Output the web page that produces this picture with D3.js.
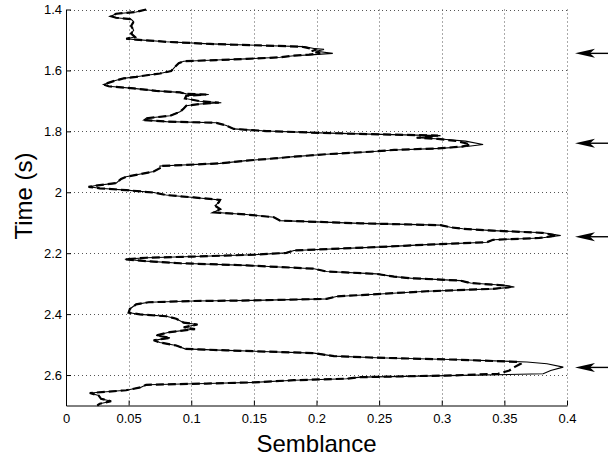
<!DOCTYPE html>
<html>
<head>
<meta charset="utf-8">
<script src="https://cdn.jsdelivr.net/npm/d3@7"></script>
<style>
  html, body { margin: 0; padding: 0; background: #fff; }
  svg { display: block; font-family: "Liberation Sans", Arial, Helvetica, sans-serif; }
</style>
</head>
<body>
<svg id="chart" width="608" height="461"></svg>
<script>
// Time samples (s), shared by both semblance traces
const time = [
  1.400, 1.408, 1.414, 1.422, 1.427, 1.432, 1.440, 1.454, 1.468, 1.479,
  1.490, 1.496, 1.499, 1.506, 1.513, 1.518, 1.522, 1.528, 1.531, 1.537,
  1.544, 1.548, 1.552, 1.557, 1.562, 1.566, 1.570, 1.576, 1.588, 1.602,
  1.610, 1.615, 1.621, 1.626, 1.635, 1.646, 1.652, 1.659, 1.667, 1.672,
  1.677, 1.679, 1.683, 1.692, 1.701, 1.706, 1.710, 1.716, 1.725, 1.736,
  1.749, 1.757, 1.763, 1.768, 1.772, 1.781, 1.792, 1.799, 1.805, 1.810,
  1.814, 1.821, 1.825, 1.832, 1.843, 1.850, 1.856, 1.861, 1.867, 1.875,
  1.883, 1.889, 1.896, 1.905, 1.914, 1.921, 1.932, 1.949, 1.956, 1.970,
  1.978, 1.982, 1.987, 1.993, 2.001, 2.009, 2.017, 2.025, 2.033, 2.044,
  2.055, 2.066, 2.073, 2.082, 2.093, 2.102, 2.108, 2.115, 2.120, 2.126,
  2.133, 2.142, 2.150, 2.156, 2.164, 2.172, 2.180, 2.191, 2.199, 2.205,
  2.211, 2.215, 2.220, 2.226, 2.233, 2.240, 2.251, 2.260, 2.268, 2.277,
  2.282, 2.290, 2.298, 2.306, 2.311, 2.317, 2.325, 2.333, 2.342, 2.350,
  2.355, 2.357, 2.361, 2.368, 2.383, 2.395, 2.401, 2.407, 2.415, 2.428,
  2.434, 2.443, 2.449, 2.459, 2.470, 2.478, 2.486, 2.493, 2.503, 2.514,
  2.519, 2.528, 2.538, 2.543, 2.550, 2.557, 2.563, 2.574, 2.585, 2.596,
  2.601, 2.607, 2.612, 2.617, 2.624, 2.628, 2.632, 2.640, 2.650, 2.659,
  2.667, 2.678, 2.686, 2.694, 2.700
];

// Semblance, solid trace
const semblanceSolid = [
  0.064, 0.056, 0.040, 0.036, 0.040, 0.052, 0.054, 0.052, 0.054, 0.052,
  0.055, 0.048, 0.056, 0.080, 0.115, 0.155, 0.190, 0.198, 0.206, 0.200,
  0.213, 0.198, 0.182, 0.171, 0.144, 0.120, 0.094, 0.090, 0.087, 0.084,
  0.075, 0.066, 0.056, 0.046, 0.038, 0.030, 0.034, 0.054, 0.072, 0.091,
  0.096, 0.114, 0.096, 0.095, 0.107, 0.124, 0.107, 0.096, 0.094, 0.091,
  0.083, 0.064, 0.062, 0.080, 0.120, 0.128, 0.134, 0.160, 0.203, 0.251,
  0.299, 0.280, 0.299, 0.319, 0.333, 0.320, 0.299, 0.262, 0.243, 0.208,
  0.182, 0.166, 0.144, 0.123, 0.075, 0.075, 0.070, 0.048, 0.044, 0.040,
  0.024, 0.018, 0.027, 0.048, 0.070, 0.080, 0.102, 0.123, 0.122, 0.119,
  0.123, 0.118, 0.144, 0.166, 0.171, 0.235, 0.299, 0.307, 0.317, 0.341,
  0.381, 0.395, 0.379, 0.341, 0.336, 0.288, 0.248, 0.182, 0.176, 0.150,
  0.102, 0.064, 0.047, 0.064, 0.091, 0.144, 0.198, 0.208, 0.248, 0.262,
  0.275, 0.315, 0.323, 0.352, 0.358, 0.341, 0.288, 0.254, 0.216, 0.208,
  0.150, 0.102, 0.066, 0.056, 0.051, 0.050, 0.059, 0.080, 0.088, 0.094,
  0.105, 0.094, 0.103, 0.083, 0.072, 0.083, 0.070, 0.075, 0.088, 0.095,
  0.128, 0.198, 0.214, 0.248, 0.315, 0.368, 0.384, 0.397, 0.387, 0.381,
  0.315, 0.235, 0.224, 0.182, 0.150, 0.112, 0.064, 0.060, 0.048, 0.019,
  0.026, 0.028, 0.036, 0.027, 0.025
];

// Semblance, dashed trace
const semblanceDashed = [
  0.064, 0.056, 0.040, 0.036, 0.040, 0.052, 0.054, 0.052, 0.054, 0.052,
  0.055, 0.048, 0.056, 0.080, 0.115, 0.155, 0.188, 0.195, 0.200, 0.196,
  0.203, 0.194, 0.180, 0.171, 0.144, 0.120, 0.094, 0.090, 0.087, 0.084,
  0.075, 0.066, 0.056, 0.046, 0.038, 0.030, 0.034, 0.054, 0.072, 0.091,
  0.096, 0.112, 0.096, 0.095, 0.107, 0.122, 0.107, 0.096, 0.094, 0.091,
  0.083, 0.064, 0.062, 0.080, 0.120, 0.128, 0.134, 0.160, 0.203, 0.251,
  0.297, 0.280, 0.297, 0.312, 0.323, 0.316, 0.297, 0.262, 0.243, 0.208,
  0.182, 0.166, 0.144, 0.123, 0.075, 0.075, 0.070, 0.048, 0.044, 0.040,
  0.024, 0.018, 0.027, 0.048, 0.070, 0.080, 0.102, 0.123, 0.122, 0.119,
  0.123, 0.118, 0.144, 0.166, 0.171, 0.235, 0.299, 0.307, 0.317, 0.341,
  0.380, 0.392, 0.378, 0.341, 0.336, 0.288, 0.248, 0.182, 0.176, 0.150,
  0.102, 0.064, 0.047, 0.064, 0.091, 0.144, 0.198, 0.208, 0.248, 0.262,
  0.275, 0.315, 0.323, 0.350, 0.355, 0.341, 0.288, 0.254, 0.216, 0.208,
  0.150, 0.102, 0.066, 0.056, 0.051, 0.050, 0.059, 0.080, 0.088, 0.094,
  0.105, 0.094, 0.103, 0.083, 0.072, 0.083, 0.070, 0.075, 0.088, 0.095,
  0.128, 0.198, 0.214, 0.248, 0.315, 0.362, 0.363, 0.358, 0.354, 0.345,
  0.310, 0.235, 0.224, 0.182, 0.150, 0.112, 0.064, 0.060, 0.048, 0.019,
  0.026, 0.028, 0.036, 0.027, 0.025
];

// Times flagged with arrows on the right margin
const markedTimes = [1.544, 1.839, 2.146, 2.575];

// Tick values and labels
const xTicks = [0, 0.05, 0.1, 0.15, 0.2, 0.25, 0.3, 0.35, 0.4];
const xTickLabels = ["0", "0.05", "0.1", "0.15", "0.2", "0.25", "0.3", "0.35", "0.4"];
const yTicks = [1.4, 1.6, 1.8, 2.0, 2.2, 2.4, 2.6];
const yTickLabels = ["1.4", "1.6", "1.8", "2", "2.2", "2.4", "2.6"];

const svg = d3.select("#chart");
const plotLeft = 66, plotRight = 567, plotTop = 9.5, plotBottom = 405.5;

const x = d3.scaleLinear().domain([0, 0.4]).range([plotLeft, plotRight]);
const y = d3.scaleLinear().domain([1.4, 2.7]).range([plotTop, plotBottom]);

// dotted grid
const grid = svg.append("g")
  .attr("stroke", "#555")
  .attr("stroke-width", 1)
  .attr("stroke-dasharray", "1,3");
grid.selectAll("line.v").data(xTicks.slice(1)).join("line")
  .attr("class", "v")
  .attr("x1", d => Math.round(x(d)) + 0.5).attr("x2", d => Math.round(x(d)) + 0.5)
  .attr("y1", plotTop).attr("y2", plotBottom);
grid.selectAll("line.h").data(yTicks).join("line")
  .attr("class", "h")
  .attr("x1", plotLeft).attr("x2", plotRight)
  .attr("y1", d => Math.round(y(d)) + 0.5).attr("y2", d => Math.round(y(d)) + 0.5);

// traces
const tracePath = vals => d3.line()
  .x((d, i) => x(vals[i]))
  .y(d => y(d))
  .curve(d3.curveLinear)(time);

svg.append("path")
  .attr("d", tracePath(semblanceSolid))
  .attr("fill", "none")
  .attr("stroke", "#000")
  .attr("stroke-width", 1.1)
  .attr("stroke-linejoin", "miter");

svg.append("path")
  .attr("d", tracePath(semblanceDashed))
  .attr("fill", "none")
  .attr("stroke", "#000")
  .attr("stroke-width", 2.2)
  .attr("stroke-dasharray", "8,4");

// axes
const xAxis = d3.axisBottom(x)
  .tickValues(xTicks)
  .tickFormat((d, i) => xTickLabels[i])
  .tickSizeInner(-5).tickSizeOuter(0).tickPadding(8);
const yAxis = d3.axisLeft(y)
  .tickValues(yTicks)
  .tickFormat((d, i) => yTickLabels[i])
  .tickSizeInner(-5).tickSizeOuter(0).tickPadding(4);

const gx = svg.append("g").attr("transform", `translate(0,${plotBottom})`).call(xAxis);
const gy = svg.append("g").attr("transform", `translate(${plotLeft},0)`).call(yAxis);
[gx, gy].forEach(g => {
  g.select(".domain").attr("stroke", "#000").attr("stroke-width", 1);
  g.selectAll(".tick line").attr("stroke", "#000");
  g.selectAll(".tick text")
    .attr("font-size", 13)
    .attr("fill", "#000")
    .attr("font-family", "'Liberation Sans', Arial, sans-serif");
});

// axis titles
svg.append("text")
  .attr("x", (plotLeft + plotRight) / 2).attr("y", 451.5)
  .attr("text-anchor", "middle")
  .attr("font-size", 24)
  .text("Semblance");
svg.append("text")
  .attr("transform", "translate(32,196) rotate(-90)")
  .attr("text-anchor", "middle")
  .attr("font-size", 24)
  .text("Time (s)");

// arrows
const arrows = svg.append("g");
markedTimes.forEach(t => {
  const ty = y(t), tx = 575;
  arrows.append("line")
    .attr("x1", tx + 10).attr("x2", 612)
    .attr("y1", ty).attr("y2", ty)
    .attr("stroke", "#000").attr("stroke-width", 1.4);
  arrows.append("path")
    .attr("d", `M${tx},${ty} L${tx + 20},${ty - 4.5} L${tx + 15},${ty} L${tx + 20},${ty + 4.5} Z`)
    .attr("fill", "#000");
});
</script>
</body>
</html>
